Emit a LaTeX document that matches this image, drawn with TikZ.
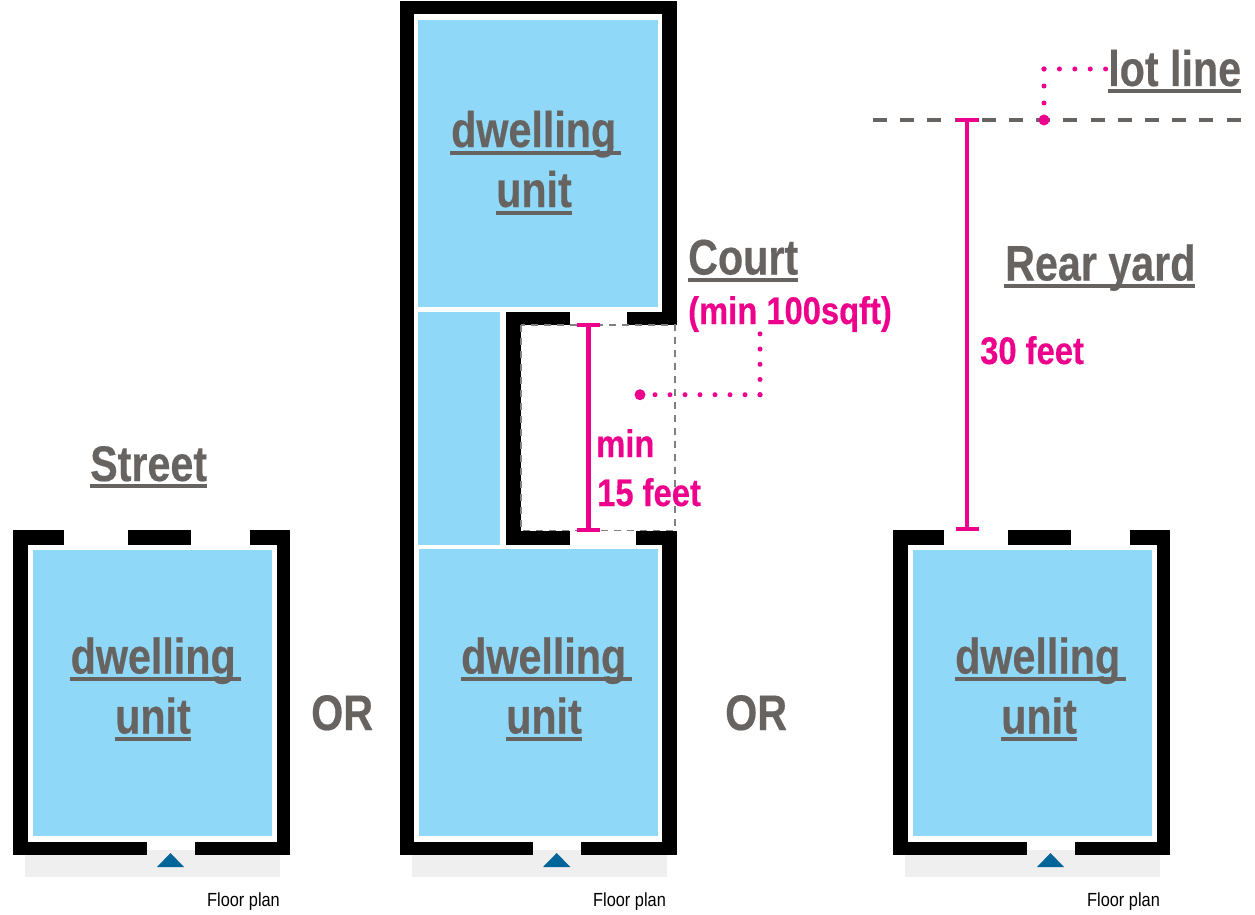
\documentclass[tikz,border=0pt]{standalone}
\usepackage{fontspec}
\newfontfamily\bigfont[FakeStretch=0.825,FakeBold=0.35]{Liberation Sans Bold}
\newfontfamily\pinkfont[FakeStretch=0.85,FakeBold=0.35]{Liberation Sans Bold}
\newfontfamily\floorfont[FakeStretch=0.86]{Liberation Sans}
\definecolor{txtgray}{HTML}{676361}
\definecolor{unitblue}{HTML}{8FD8F8}
\definecolor{dimpink}{HTML}{EC008C}
\definecolor{doorblue}{HTML}{006699}
\definecolor{porch}{HTML}{EFEFEF}
\tikzset{
  wall/.style={fill=black,draw=none},
  unit/.style={fill=unitblue,draw=none},
  porchbox/.style={fill=porch,draw=none},
  door/.style={fill=doorblue,draw=none},
  ulbar/.style={fill=txtgray,draw=none},
  big/.style={inner sep=0pt,anchor=base west,text=txtgray,font=\bigfont\fontsize{50}{50}\selectfont},
  pinktxt/.style={inner sep=0pt,anchor=base west,text=dimpink,font=\pinkfont\fontsize{38.5}{38.5}\selectfont},
  floor/.style={inner sep=0pt,anchor=base west,text=black,font=\floorfont\fontsize{19}{19}\selectfont},
  dim/.style={draw=dimpink,line width=4.8pt},
  dots/.style={draw=dimpink,line width=5pt,line cap=round,dash pattern=on 0pt off #1},
  pinkdot/.style={circle,fill=dimpink,draw=none,inner sep=0pt,minimum size=11pt},
  lotline/.style={draw=txtgray,line width=3.5pt,dash pattern=on 14pt off 13.2pt},
  courtline/.style={draw=gray,line width=1.3pt,dash pattern=on 7pt off 6pt},
}
\newcommand{\rct}[5]{\fill[#1] (#2,#3) rectangle (#4,#5);}
\begin{document}
\begin{tikzpicture}[x=1pt,y=-1pt]
\useasboundingbox (0,0) rectangle (1255,915);
% ---- porches
\fill[porchbox] (25,850) rectangle (280,877);
\fill[porchbox] (411.7,850) rectangle (667,877);
\fill[porchbox] (905,850) rectangle (1160,877);
% ---- left unit
\rct{wall}{13.3}{530.3}{27.7}{855.3}
\rct{wall}{277}{530.3}{290.3}{855.3}
\rct{wall}{13.3}{530.3}{63.5}{544.7}
\rct{wall}{127.5}{530.3}{191}{544.7}
\rct{wall}{249.5}{530.3}{290.3}{544.7}
\rct{wall}{13.3}{842}{146.5}{855.3}
\rct{wall}{194.5}{842}{290.3}{855.3}
\rct{unit}{32.7}{549.5}{272}{836}
\fill[door] (170.5,853) -- (184,867) -- (157,867) -- cycle;
% ---- middle unit
\rct{wall}{399.7}{1}{414.3}{855.3}
\rct{wall}{399.7}{1}{676.7}{14.3}
\rct{wall}{662}{1}{676.7}{325}
\rct{wall}{506}{311.7}{521}{545}
\rct{wall}{506}{311.7}{569.5}{325}
\rct{wall}{626.7}{311.7}{676.7}{325}
\rct{wall}{506}{530.7}{569.5}{545}
\rct{wall}{636}{530.7}{676.7}{545}
\rct{wall}{662}{530.7}{676.7}{855.3}
\rct{wall}{399.7}{842}{532.7}{855.3}
\rct{wall}{581}{842}{676.7}{855.3}
\rct{unit}{418}{20.5}{657.5}{306.7}
\rct{unit}{418}{311.7}{500}{545}
\rct{unit}{419}{549.3}{658}{835.7}
\fill[door] (556.7,853) -- (570.3,867) -- (543,867) -- cycle;
\draw[courtline] (521,325) rectangle (675,530.7);
% ---- right unit
\rct{wall}{893.3}{530.3}{907.7}{855.3}
\rct{wall}{1157}{530.3}{1170.3}{855.3}
\rct{wall}{893.3}{530.3}{943.7}{544.7}
\rct{wall}{1007.7}{530.3}{1071}{544.7}
\rct{wall}{1129.7}{530.3}{1170.3}{544.7}
\rct{wall}{893.3}{842}{1026.5}{855.3}
\rct{wall}{1074.5}{842}{1170.3}{855.3}
\rct{unit}{913}{549.5}{1152}{836}
\fill[door] (1050.5,853) -- (1064,867) -- (1037,867) -- cycle;
% ---- lot line
\coordinate (lotA) at (873,120);
\coordinate (lotB) at (1241,120);
\draw[lotline] (lotA) -- (lotB);
% ---- texts
\node[big] (s) at (90,481) {Street};
\rct{ulbar}{90}{484}{207}{488}
\node[big] (u1a) at (70.5,673.5) {dwelling};
\rct{ulbar}{69.5}{677}{241}{681}
\node[big] (u1b) at (115,733.5) {unit};
\rct{ulbar}{114.5}{737}{190.5}{741}
\node[big] (or1) at (311,730) {OR};
\node[big] (u2a) at (451,147) {dwelling};
\rct{ulbar}{450}{150.5}{621}{154.5}
\node[big] (u2b) at (496,207) {unit};
\rct{ulbar}{495.5}{210.5}{571.5}{214.5}
\node[big] (u3a) at (461,673.5) {dwelling};
\rct{ulbar}{460.5}{677}{632}{681}
\node[big] (u3b) at (506,733.5) {unit};
\rct{ulbar}{505.5}{737}{581.5}{741}
\node[big] (or2) at (725,730) {OR};
\node[big] (u4a) at (955,673.5) {dwelling};
\rct{ulbar}{954.5}{677}{1126}{681}
\node[big] (u4b) at (1001,733.5) {unit};
\rct{ulbar}{1000.5}{737}{1076.5}{741}
\node[big] (court) at (688,274.5) {Court};
\rct{ulbar}{687.5}{278.3}{798}{282}
\node[big] (rear) at (1005,280.5) {Rear yard};
\rct{ulbar}{1004.3}{284}{1195}{287.8}
\node[big] (lot) at (1108,86) {lot line};
\rct{ulbar}{1108}{89.5}{1241}{93}
\node[pinktxt] (csize) at (688,324) {(min 100sqft)};
\node[pinktxt] (m1) at (596,457) {min};
\node[pinktxt] (m2) at (597,506) {15 feet};
\node[pinktxt] (f30) at (980,364) {30 feet};
\node[floor] (fp1) at (207,906) {Floor plan};
\node[floor] (fp2) at (593,906) {Floor plan};
\node[floor] (fp3) at (1087,906) {Floor plan};
% ---- dimensions
\coordinate (d1t) at (588.5,325);
\coordinate (d1b) at (588.5,530);
\draw[dim] (d1t) -- (d1b);
\draw[dim] ([xshift=-11.5pt]d1t) -- ([xshift=11.5pt]d1t);
\draw[dim] ([xshift=-11.5pt]d1b) -- ([xshift=11.5pt]d1b);
\coordinate (d2t) at (967,120);
\coordinate (d2b) at (967,529);
\draw[dim] (d2t) -- (d2b);
\draw[dim] ([xshift=-11.5pt]d2t) -- ([xshift=11.5pt]d2t);
\draw[dim] ([xshift=-11.5pt]d2b) -- ([xshift=11.5pt]d2b);
% ---- leaders
\node[pinkdot] (cdot) at (640,394.7) {};
\coordinate (ccorner) at (760,394.7);
\coordinate (cend) at (760,333);
\draw[dots=15pt] (cdot.center) -- (ccorner);
\draw[dots=15.2pt] (ccorner) -- (cend);
\node[pinkdot] (ldot) at (1044,120) {};
\coordinate (lcorner) at (1044,69);
\coordinate (lend) at (1106,69);
\draw[dots=17pt] (ldot.center) -- (lcorner);
\draw[dots=15.4pt] (lcorner) -- (lend);
\end{tikzpicture}
\end{document}
